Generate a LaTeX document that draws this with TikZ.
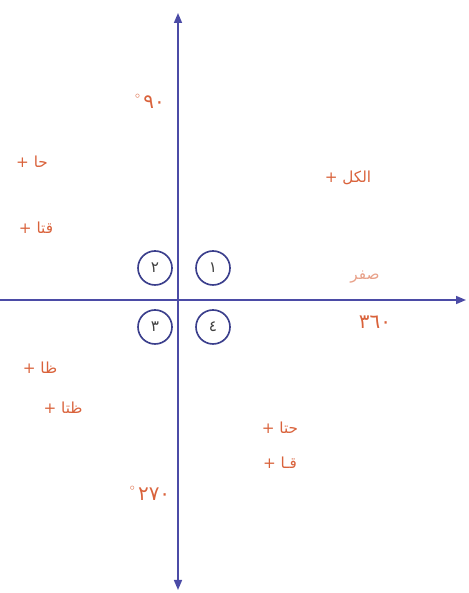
\documentclass[tikz,border=0pt]{standalone}
\usepackage{fontspec}
\newfontfamily\arabicfont[Script=Arabic]{DejaVu Sans}
\TeXXeTstate=1
\usetikzlibrary{arrows.meta}
\definecolor{axisblue}{HTML}{4B4BA6}
\definecolor{ringblue}{HTML}{3B3F8C}
\definecolor{lblred}{HTML}{D9623B}
\tikzset{
  axis/.style={draw=axisblue, line width=1.3pt},
  ring/.style={draw=ringblue, circle, line width=1.4pt, minimum size=1.02cm, inner sep=0pt, font=\arabicfont\fontsize{13}{15}\selectfont, text=black!75},
  lbl/.style={text=lblred, font=\arabicfont\fontsize{13}{15}\selectfont, inner sep=1pt},
  ang/.style={lbl, font=\arabicfont\fontsize{17}{19}\selectfont},
}
\newcommand{\degmark}{\raisebox{0.5em}{\fontsize{8}{9}\selectfont $\circ$}}
\begin{document}
\begin{tikzpicture}[x=0.03cm, y=0.03cm]
\useasboundingbox (0,0) rectangle (468,593);

% Axes
\coordinate (top) at (178,580);
\coordinate (bot) at (178,3);
\coordinate (left) at (0,293);
\coordinate (right) at (466,293);
\draw[axis, {Triangle[length=3mm,width=2.4mm]}-{Triangle[length=3mm,width=2.4mm]}] (bot) -- (top);
\draw[axis, -{Triangle[length=3mm,width=2.4mm]}] (left) -- (right);

% Quadrant numbers
\node[ring] (q1) at (213,325) {١};
\node[ring] (q2) at (155,325) {٢};
\node[ring] (q3) at (155,266) {٣};
\node[ring] (q4) at (213,266) {٤};

% Angles
\node[ang] (a90) at (150,492) {\degmark\,٩٠};
\node[ang] (a270) at (150,100) {\degmark\,٢٧٠};
\node[ang] (a360) at (375,271) {٣٦٠};
\node[lbl, text=lblred!60] (a0) at (365,316) {\beginR صفر\endR};

% Signs in each quadrant
\node[lbl] (all) at (348,415) {+ \beginR الكل\endR};
\node[lbl] (sin) at (32,431) {+ \beginR حا\endR};
\node[lbl] (csc) at (36,365) {+ \beginR قتا\endR};
\node[lbl] (tan) at (40,225) {+ \beginR ظا\endR};
\node[lbl] (cot) at (63,185) {+ \beginR ظتا\endR};
\node[lbl] (cos) at (280,165) {+ \beginR حتا\endR};
\node[lbl] (sec) at (280,130) {+ \beginR قـا\endR};

\end{tikzpicture}
\end{document}
